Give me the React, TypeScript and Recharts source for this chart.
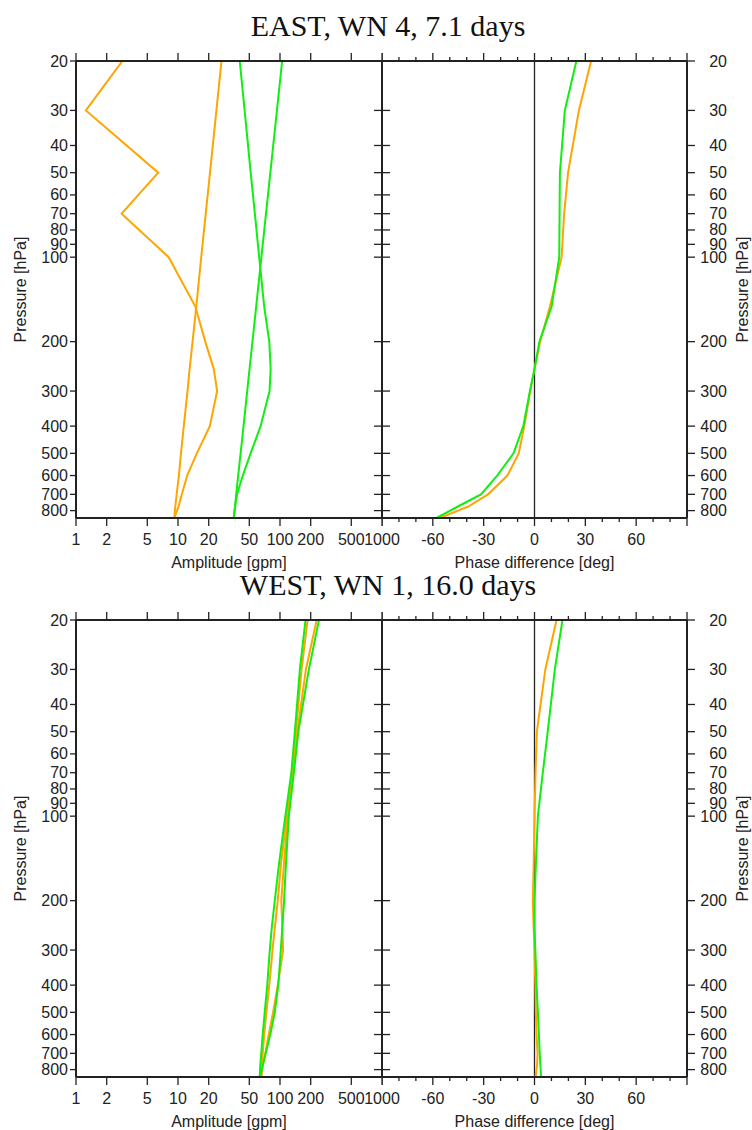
import React from "react";
import { LineChart, Line, XAxis, YAxis, ReferenceLine } from "recharts";

// pressure levels [hPa], top to bottom
const levels = [20, 30, 50, 70, 100, 150, 200, 250, 300, 400, 500, 600, 700, 775, 850];

// EAST, WN 4, 7.1 days
const eastAmpOrangeA = [2.85, 1.25, 6.4, 2.8, 8.1, 14.8, 18.5, 22.4, 24.2, 20.5, 15.3, 12.3, 10.9, 10.1, 9.2];
const eastAmpOrangeB = [26.7, 23.8, 20.6, 18.7, 16.9, 15.1, 13.9, 13.0, 12.4, 11.4, 10.7, 10.2, 9.7, 9.4, 9.2];
const eastAmpGreenA = [40.3, 45, 51.6, 56.7, 62.5, 70, 78.5, 81, 79, 64.5, 51.5, 43.2, 37.9, 36.3, 35.2];
const eastAmpGreenB = [105, 93.3, 80.4, 72.9, 65.7, 58.4, 53.7, 50.3, 47.7, 43.9, 41.1, 38.9, 37.2, 36.2, 35.2];
const eastPhaseOrange = [33.4, 26.2, 19.8, 17.5, 16, 9.1, 3.3, 0, -2.5, -6, -9.3, -16, -27.4, -39.4, -55.9];
const eastPhaseGreen = [24.7, 17.9, 15, 14.8, 14.6, 10.1, 2.9, 0, -2.7, -6.6, -12.4, -22, -31.6, -45.5, -57.8];

// WEST, WN 1, 16.0 days
const westAmpOrangeA = [186.5, 162.8, 143.1, 130.7, 116.7, 101.8, 95.1, 88.9, 84.4, 78.5, 73.6, 70.0, 67.7, 66.2, 65.5];
const westAmpOrangeB = [228.8, 179.5, 148.0, 133.6, 119.4, 109.0, 103.0, 105.4, 107.3, 95.1, 85.5, 77.6, 71.7, 67.7, 65.5];
const westAmpGreenA = [178, 156.6, 139.9, 129.2, 112.8, 97.3, 88.9, 83.0, 79.4, 75.0, 70.8, 67.7, 65.5, 64.0, 63.2];
const westAmpGreenB = [241, 191.9, 151.4, 136.8, 122.1, 114.1, 109.7, 105.4, 101.8, 96.2, 88.9, 80.3, 72.5, 67.7, 64.0];
const westPhaseOrange = [13, 6.4, 1.4, 0.6, 0, -0.5, -1, -0.5, 0, 0.5, 0.8, 1.2, 1.8, 1.5, 0.6];
const westPhaseGreen = [16.5, 12, 7.8, 4.9, 2, 0.8, 0, 0, 0.5, 1.2, 2, 2.6, 3.1, 3.5, 3.9];

// ticks
const pressureTicks = [20, 30, 40, 50, 60, 70, 80, 90, 100, 200, 300, 400, 500, 600, 700, 800];
const ampTicks = [1, 2, 5, 10, 20, 50, 100, 200, 500, 1000];
const phaseTicks = [-90, -80, -70, -60, -50, -40, -30, -20, -10, 0, 10, 20, 30, 40, 50, 60, 70, 80, 90];
const phaseMajor = [-90, -60, -30, 0, 30, 60, 90];
const phaseLabels = [-60, -30, 0, 30, 60];

const INK = "#222";
const ORANGE = "#FFA500";
const GREEN = "#11EE11";
const SANS = "'Liberation Sans', Arial, Helvetica, sans-serif";
const SERIF = "'Liberation Serif', 'Times New Roman', serif";
const axisLine = { stroke: INK, strokeWidth: 2 };

type Row = Record<string, number>;

function buildRows(cols: Record<string, number[]>): Row[] {
  return levels.map((p, i) => {
    const r: Row = { p };
    Object.keys(cols).forEach((k) => {
      r[k] = cols[k][i];
    });
    return r;
  });
}

function XTick(props: any) {
  const { x, y, payload, side, major, labels } = props;
  const v = payload.value;
  const len = major.includes(v) ? 8 : 4;
  const dir = side === "top" ? -1 : 1;
  return (
    <g>
      <line x1={x} x2={x} y1={y} y2={y + dir * len} stroke={INK} strokeWidth={1.3} />
      {side === "bottom" && labels.includes(v) && (
        <text x={x} y={y + 27} textAnchor="middle" fontSize={16} fill={INK} fontFamily={SANS}>
          {v}
        </text>
      )}
    </g>
  );
}

function YTick(props: any) {
  const { x, y, payload, side, inward, len, label } = props;
  let dir = side === "left" ? -1 : 1;
  if (inward) dir = -dir;
  const tx = side === "left" ? x - 8 : x + 40;
  return (
    <g>
      <line x1={x} x2={x + dir * len} y1={y} y2={y} stroke={INK} strokeWidth={1.3} />
      {label && (
        <text x={tx} y={y} textAnchor="end" dominantBaseline="central" fontSize={16} fill={INK} fontFamily={SANS}>
          {payload.value}
        </text>
      )}
    </g>
  );
}

function yAxes(leftLabel: boolean) {
  const common = {
    type: "number" as const,
    dataKey: "p",
    scale: "log" as const,
    domain: [20, 850],
    allowDataOverflow: true,
    ticks: pressureTicks,
    interval: 0,
    tickSize: 0,
    tickMargin: 0,
    tickLine: false,
    axisLine,
  };
  return leftLabel
    ? [
        <YAxis key="l" yAxisId="l" orientation="left" width={60} {...common}
          tick={(t: any) => <YTick {...t} side="left" len={6} label />} />,
        <YAxis key="r" yAxisId="r" orientation="right" mirror {...common}
          tick={(t: any) => <YTick {...t} side="right" inward len={8} />} />,
      ]
    : [
        <YAxis key="l" yAxisId="l" orientation="left" mirror {...common}
          tick={(t: any) => <YTick {...t} side="left" inward len={8} />} />,
        <YAxis key="r" yAxisId="r" orientation="right" width={65} {...common}
          tick={(t: any) => <YTick {...t} side="right" len={8} label />} />,
      ];
}

function AmpChart({ rows, height, bottom }: { rows: Row[]; height: number; bottom: number }) {
  const xCommon = {
    type: "number" as const,
    scale: "log" as const,
    domain: [1, 1000],
    allowDataOverflow: true,
    ticks: ampTicks,
    interval: 0,
    tickSize: 0,
    tickMargin: 0,
    tickLine: false,
    axisLine,
  };
  // 30px of right margin so the "1000" tick label is not clipped
  return (
    <LineChart layout="vertical" width={412} height={height} data={rows}
      margin={{ top: 53, right: 30, bottom, left: 16 }}>
      <XAxis xAxisId="b" orientation="bottom" height={50} {...xCommon}
        tick={(t: any) => <XTick {...t} side="bottom" major={ampTicks} labels={ampTicks} />} />
      <XAxis xAxisId="t" orientation="top" height={8} {...xCommon}
        tick={(t: any) => <XTick {...t} side="top" major={ampTicks} labels={[]} />} />
      {yAxes(true)}
      <Line xAxisId="b" yAxisId="l" dataKey="oa" stroke={ORANGE} strokeWidth={2} dot={false} isAnimationActive={false} />
      <Line xAxisId="b" yAxisId="l" dataKey="ob" stroke={ORANGE} strokeWidth={2} dot={false} isAnimationActive={false} />
      <Line xAxisId="b" yAxisId="l" dataKey="ga" stroke={GREEN} strokeWidth={2} dot={false} isAnimationActive={false} />
      <Line xAxisId="b" yAxisId="l" dataKey="gb" stroke={GREEN} strokeWidth={2} dot={false} isAnimationActive={false} />
    </LineChart>
  );
}

function PhaseChart({ rows, height, bottom }: { rows: Row[]; height: number; bottom: number }) {
  const xCommon = {
    type: "number" as const,
    domain: [-90, 90],
    allowDataOverflow: true,
    ticks: phaseTicks,
    interval: 0,
    tickSize: 0,
    tickMargin: 0,
    tickLine: false,
    axisLine,
  };
  return (
    <LineChart layout="vertical" width={370} height={height} data={rows}
      margin={{ top: 53, right: 0, bottom, left: 0 }}>
      <XAxis xAxisId="b" orientation="bottom" height={50} {...xCommon}
        tick={(t: any) => <XTick {...t} side="bottom" major={phaseMajor} labels={phaseLabels} />} />
      <XAxis xAxisId="t" orientation="top" height={8} {...xCommon}
        tick={(t: any) => <XTick {...t} side="top" major={phaseMajor} labels={[]} />} />
      {yAxes(false)}
      <ReferenceLine xAxisId="b" yAxisId="l" x={0} stroke={INK} strokeWidth={1.3} />
      <Line xAxisId="b" yAxisId="l" dataKey="o" stroke={ORANGE} strokeWidth={2} dot={false} isAnimationActive={false} />
      <Line xAxisId="b" yAxisId="l" dataKey="g" stroke={GREEN} strokeWidth={2} dot={false} isAnimationActive={false} />
    </LineChart>
  );
}

const eastAmp = buildRows({ oa: eastAmpOrangeA, ob: eastAmpOrangeB, ga: eastAmpGreenA, gb: eastAmpGreenB });
const eastPhase = buildRows({ o: eastPhaseOrange, g: eastPhaseGreen });
const westAmp = buildRows({ oa: westAmpOrangeA, ob: westAmpOrangeB, ga: westAmpGreenA, gb: westAmpGreenB });
const westPhase = buildRows({ o: westPhaseOrange, g: westPhaseGreen });

function Titles({ dy, title }: { dy: number; title: string }) {
  const cy = 289.5 + dy;
  return (
    <g>
      <text x={388} y={36 + dy} textAnchor="middle" fontSize={30} fontFamily={SERIF} fill="#111">{title}</text>
      <text x={229} y={568 + dy} textAnchor="middle" fontSize={16} fontFamily={SANS} fill={INK}>Amplitude [gpm]</text>
      <text x={534.5} y={568 + dy} textAnchor="middle" fontSize={16} fontFamily={SANS} fill={INK}>Phase difference [deg]</text>
      <text x={20} y={cy} textAnchor="middle" dominantBaseline="central" fontSize={16} fontFamily={SANS} fill={INK}
        transform={`rotate(-90 20 ${cy})`}>Pressure [hPa]</text>
      <text x={742} y={cy} textAnchor="middle" dominantBaseline="central" fontSize={16} fontFamily={SANS} fill={INK}
        transform={`rotate(-90 742 ${cy})`}>Pressure [hPa]</text>
    </g>
  );
}

export default function App() {
  const off = 559;
  return (
    <div style={{ position: "absolute", left: 0, top: 0, width: 752, height: 1130, overflow: "hidden", background: "#fff" }}>
      <div style={{ position: "absolute", left: 382, top: 0 }}>
        <PhaseChart rows={eastPhase} height={600} bottom={32} />
      </div>
      <div style={{ position: "absolute", left: 0, top: 0 }}>
        <AmpChart rows={eastAmp} height={600} bottom={32} />
      </div>
      <div style={{ position: "absolute", left: 382, top: off }}>
        <PhaseChart rows={westPhase} height={571} bottom={3} />
      </div>
      <div style={{ position: "absolute", left: 0, top: off }}>
        <AmpChart rows={westAmp} height={571} bottom={3} />
      </div>
      <svg width={752} height={1130} style={{ position: "absolute", left: 0, top: 0, pointerEvents: "none" }}>
        <Titles dy={0} title="EAST, WN 4, 7.1 days" />
        <Titles dy={off} title="WEST, WN 1, 16.0 days" />
      </svg>
    </div>
  );
}
